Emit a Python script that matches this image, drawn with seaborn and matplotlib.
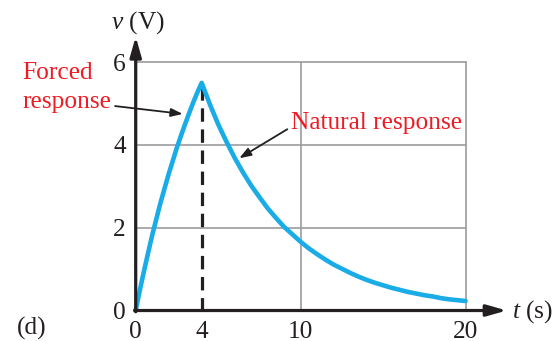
import matplotlib
matplotlib.use("Agg")
import matplotlib.pyplot as plt
import seaborn as sns
import pandas as pd

# Capacitor voltage v(t): forced response while charging (0-4 s),
# natural response (decay) afterwards.
t_forced = [0, 0.25, 0.5, 0.75, 1, 1.25, 1.5, 1.75, 2, 2.25, 2.5, 2.75,
            3, 3.25, 3.5, 3.75, 4]
v_forced = [0, 0.49, 0.95, 1.39, 1.82, 2.21, 2.6, 2.95, 3.3, 3.62, 3.94,
            4.23, 4.51, 4.78, 5.04, 5.28, 5.5]
t_natural = [4, 4.5, 5, 5.5, 6, 6.5, 7, 7.5, 8, 8.5, 9, 9.5, 10, 10.5, 11,
             11.5, 12, 12.5, 13, 13.5, 14, 14.5, 15, 15.5, 16, 16.5, 17,
             17.5, 18, 18.5, 19, 19.5, 20]
v_natural = [5.5, 4.98, 4.5, 4.08, 3.69, 3.34, 3.02, 2.74, 2.47, 2.24,
             2.02, 1.84, 1.66, 1.5, 1.36, 1.23, 1.11, 1.01, 0.91, 0.82,
             0.74, 0.67, 0.61, 0.55, 0.5, 0.45, 0.41, 0.37, 0.34, 0.3,
             0.27, 0.25, 0.23]

x_ticks = [0, 4, 10, 20]
y_ticks = [0, 2, 4, 6]
grid_x = [10, 20]
grid_y = [2, 4, 6]
switch_time = 4

sns.set_theme(style="white")
plt.rcParams["font.family"] = ["Liberation Serif", "DejaVu Serif"]
plt.rcParams["mathtext.fontset"] = "custom"
plt.rcParams["mathtext.it"] = "Liberation Serif:italic"
plt.rcParams["mathtext.rm"] = "Liberation Serif"

curve = pd.DataFrame({
    "t": t_forced + t_natural[1:],
    "v": v_forced + v_natural[1:],
})

fig = plt.figure(figsize=(5.58, 3.41), dpi=100)
ax = fig.add_axes([0.2432, 0.0894, 0.665, 0.801])
ax.set_xlim(0, 22.5)
ax.set_ylim(0, 6.6)
ax.axis("off")

FS = 18.3
RED = "#ED1C24"
INK = "#231F20"
GRID = "#9C9C9E"

# grid box
for gy in grid_y:
    ax.plot([0, 20], [gy, gy], color=GRID, lw=1.2, zorder=1, clip_on=False)
for gx in grid_x:
    ax.plot([gx, gx], [0, 6], color=GRID, lw=1.2, zorder=1, clip_on=False)

# dashed marker at the switching instant
peak = v_forced[-1]
ax.plot([switch_time, switch_time], [0, peak], color=INK, lw=2.3,
        linestyle=(0, (4.2, 2.4)), zorder=2, clip_on=False)

# response curve
sns.lineplot(data=curve, x="t", y="v", ax=ax, color="#1AACE6", lw=3.3,
             zorder=3, clip_on=False, legend=False, sort=False,
             solid_joinstyle="round")
ax.set_xlabel("")
ax.set_ylabel("")

# axes with arrowheads
arrow = dict(arrowstyle="-|>,head_length=0.6,head_width=0.17", lw=2.3,
             color=INK, mutation_scale=20, shrinkA=0, shrinkB=0)
ax.annotate("", xy=(22.5, 0), xytext=(-0.07, 0), arrowprops=arrow,
            annotation_clip=False, zorder=4)
ax.annotate("", xy=(0, 6.62), xytext=(0, -0.03), arrowprops=arrow,
            annotation_clip=False, zorder=4)

# tick labels
for yt in y_ticks:
    ax.text(-0.6, yt - 0.205, f"{yt}", ha="right", va="baseline",
            fontsize=FS, color=INK)
for xt in x_ticks:
    ax.text(xt, -0.66, f"{xt}", ha="center", va="baseline",
            fontsize=FS, color=INK)

# axis titles
ax.text(0.11, 6.82, r"$v$ (V)", ha="center", va="baseline",
        fontsize=FS, color=INK, clip_on=False)
ax.text(22.79, -0.164, r"$t$ (s)", ha="left", va="baseline",
        fontsize=FS, color=INK, clip_on=False)
ax.text(-7.21, -0.59, "(d)", ha="left", va="baseline",
        fontsize=FS, color=INK, clip_on=False)

# annotations
ax.text(-6.85, 5.585, "Forced", ha="left", va="baseline",
        fontsize=FS, color=RED)
ax.text(-6.85, 4.884, "response", ha="left", va="baseline",
        fontsize=FS, color=RED)
ax.text(9.39, 4.377, "Natural response", ha="left", va="baseline",
        fontsize=FS, color=RED)

pointer = dict(arrowstyle="-|>,head_length=0.5,head_width=0.18", lw=1.3,
               color=INK, mutation_scale=14, shrinkA=0, shrinkB=0)
ax.annotate("", xy=(2.85, 4.75), xytext=(-1.25, 4.94), arrowprops=pointer,
            annotation_clip=False)
ax.annotate("", xy=(6.28, 3.68), xytext=(9.19, 4.38), arrowprops=pointer,
            annotation_clip=False)

fig.savefig("out.png", dpi=100)
